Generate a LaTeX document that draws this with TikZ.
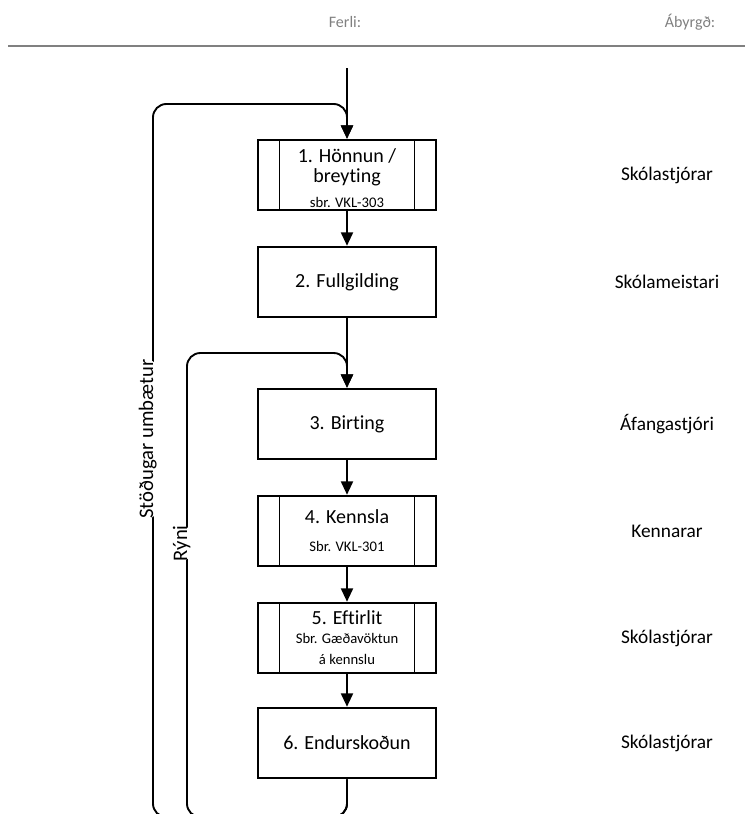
\documentclass[tikz,border=0pt]{standalone}
\usepackage{fontspec}
\setmainfont{Carlito}[Ligatures=NoCommon]
\usetikzlibrary{arrows.meta}
\definecolor{HeadGray}{gray}{0.5}
\newcommand\smalltxt{\fontsize{11}{13}\selectfont}
\tikzset{
  box/.style={draw, line width=1.4pt, minimum width=133.5pt, minimum height=53pt,
    inner sep=0pt, align=center, font=\fontsize{15}{15}\selectfont},
  subbox/.style={box, path picture={
    \draw[line width=1.4pt] ([xshift=16.1pt]path picture bounding box.north west) -- ([xshift=16.1pt]path picture bounding box.south west);
    \draw[line width=1.4pt] ([xshift=-16.1pt]path picture bounding box.north east) -- ([xshift=-16.1pt]path picture bounding box.south east);}},
  role/.style={font=\fontsize{14.5}{17}\selectfont},
  head/.style={text=HeadGray, font=\fontsize{12}{14}\selectfont},
  flow/.style={line width=1.4pt, -{Triangle[length=10pt,width=9pt]}},
  loopline/.style={flow, rounded corners=10pt},
  looplabel/.style={rotate=90, anchor=base, fill=white, inner sep=1pt, font=\fontsize{15.5}{17}\selectfont}
}
\begin{document}
\begin{tikzpicture}[x=0.75pt, y=-0.75pt]
\useasboundingbox (0,0) rectangle (745,814);

\node[head] (ferli) at (345,22) {Ferli:};
\node[head] (abyrgd) at (690,22) {Ábyrgð:};
\draw[HeadGray, line width=1.5pt] (8,46) -- (745,46);

\node[subbox] (b1) at (347,175) {\rule{0pt}{15pt}1. Hönnun /\\ breyting\\[4pt] \smalltxt sbr. VKL-303};
\node[box] (b2) at (347,282) {2. Fullgilding};
\node[box] (b3) at (347,424) {3. Birting};
\node[subbox] (b4) at (347,531) {4. Kennsla\\[6pt] \smalltxt Sbr. VKL-301};
\node[subbox] (b5) at (347,638) {5. Eftirlit\\[-1pt] \smalltxt Sbr. Gæðavöktun\\[1pt] \smalltxt á kennslu};
\node[box] (b6) at (347,743) {6. Endurskoðun};

\node[role] (r1) at (667,175) {Skólastjórar};
\node[role] (r2) at (667,282) {Skólameistari};
\node[role] (r3) at (667,424) {Áfangastjóri};
\node[role] (r4) at (667,531) {Kennarar};
\node[role] (r5) at (667,638) {Skólastjórar};
\node[role] (r6) at (667,743) {Skólastjórar};

\coordinate (start) at (347,68);
\draw[flow] (start) -- (b1);
\draw[flow] (b1) -- (b2);
\draw[flow] (b2) -- (b3);
\draw[flow] (b3) -- (b4);
\draw[flow] (b4) -- (b5);
\draw[flow] (b5) -- (b6);

\draw[loopline] (b6.south) -- (347,817) -- (153,817) -- node[looplabel, pos=0.53] {Stöðugar umbætur} (153,104) -- (347,104) -- (b1.north);
\draw[loopline] (b6.south) -- (347,817) -- (187,817) -- node[looplabel, pos=0.59] {Rýni} (187,353) -- (347,353) -- (b3.north);
\end{tikzpicture}
\end{document}
